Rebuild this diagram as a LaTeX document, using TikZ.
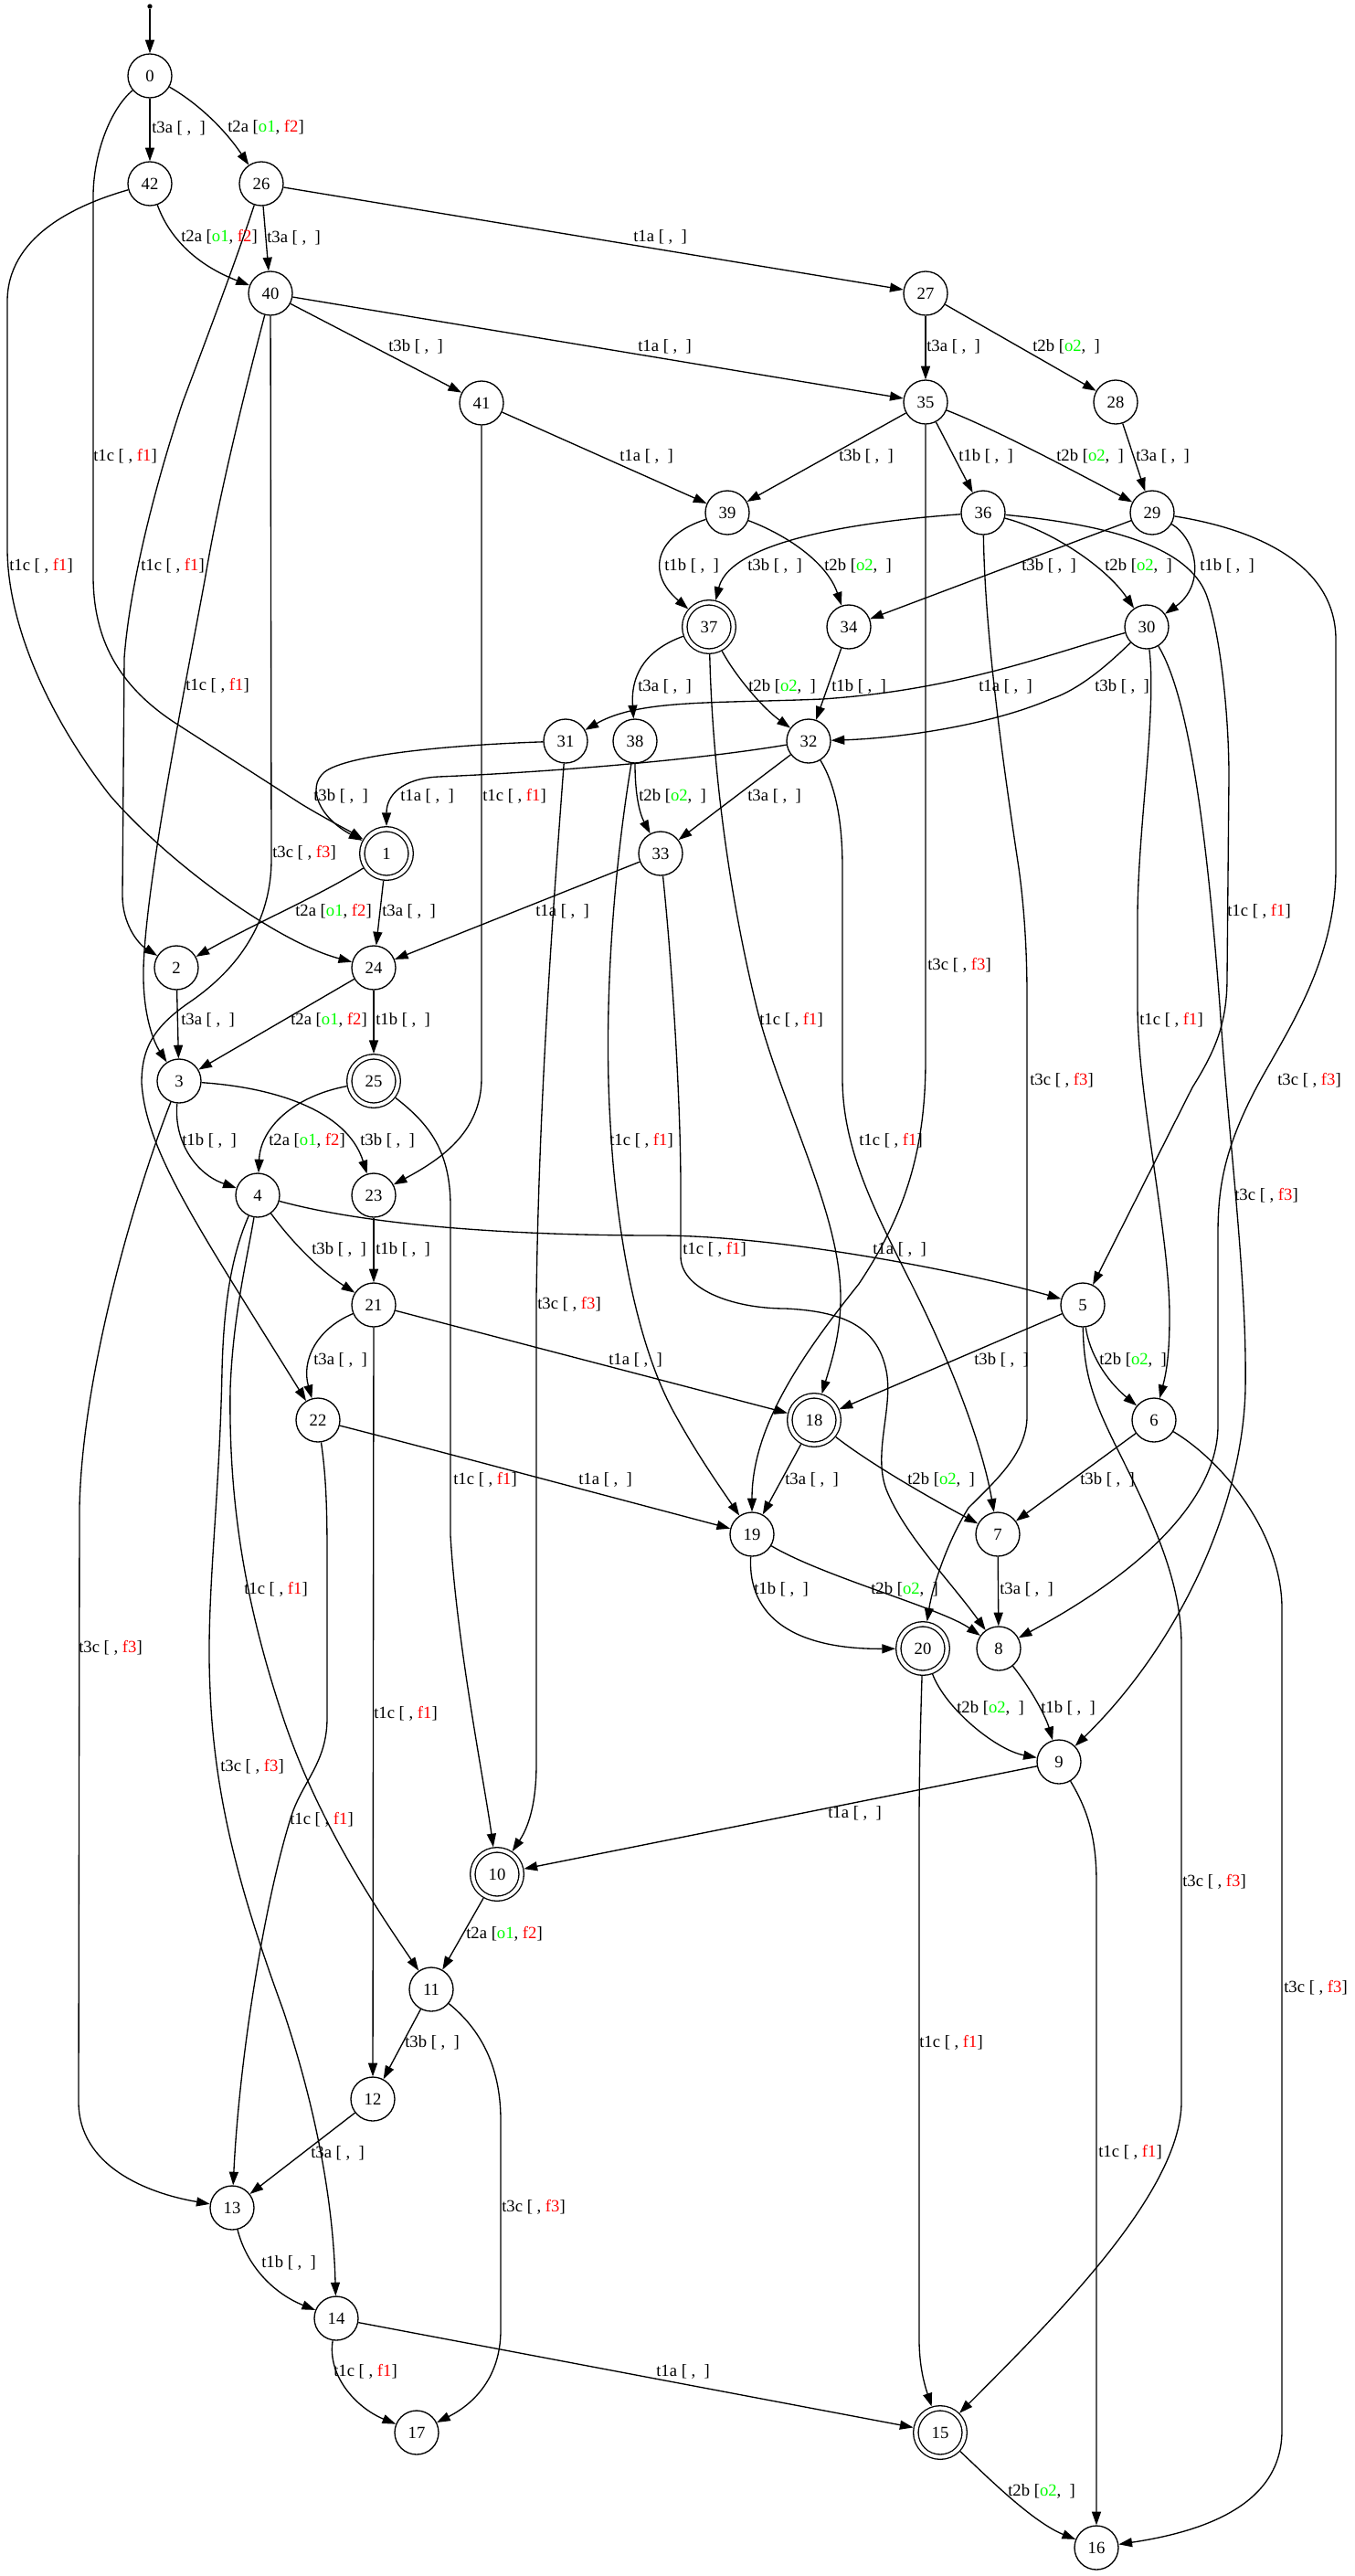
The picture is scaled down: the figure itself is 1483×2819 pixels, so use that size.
\documentclass[tikz,border=0pt]{standalone}
\usepackage{fontspec}
\setmainfont{Liberation Serif}
\usetikzlibrary{arrows.meta}
\definecolor{fgreen}{RGB}{0,255,0}
\definecolor{fred}{RGB}{255,0,0}
% transition labels: plain, fault only, observation only, both
\newcommand\Lnone[1]{#1 [~,~~]}
\newcommand\Lf[2]{#1 [~, \textcolor{fred}{#2}]}
\newcommand\Lo[2]{#1 [\textcolor{fgreen}{#2},~~]}
\newcommand\Lof[3]{#1 [\textcolor{fgreen}{#2}, \textcolor{fred}{#3}]}
\begin{document}
\begin{tikzpicture}[x=0.75pt,y=-0.75pt,
  st/.style={circle,draw,line width=1pt,minimum size=36pt,inner sep=0pt,font=\fontsize{14pt}{16pt}\selectfont},
  acc/.style={circle,draw,line width=1pt,double,double distance=3pt,minimum size=40pt,inner sep=0pt,outer sep=2.5pt,font=\fontsize{14pt}{16pt}\selectfont},
  e/.style={line width=1pt,-{Triangle[length=11pt,width=7.5pt]}},
  lbl/.style={anchor=west,inner sep=0pt,font=\fontsize{14pt}{16pt}\selectfont},
  dot/.style={circle,fill,inner sep=0pt,minimum size=4pt}]
\useasboundingbox[fill=white] (0,0) rectangle (1483,2819);

% states
\node[dot] (s) at (164,7) {};
\node[st] (n0) at (164,83) {0};
\node[st] (n42) at (164,201) {42};
\node[st] (n26) at (286,201) {26};
\node[st] (n40) at (296,321) {40};
\node[st] (n27) at (1013,321) {27};
\node[st] (n41) at (527,441) {41};
\node[st] (n35) at (1013,440) {35};
\node[st] (n28) at (1221,440) {28};
\node[st] (n39) at (796,561) {39};
\node[st] (n36) at (1076,561) {36};
\node[st] (n29) at (1261,561) {29};
\node[acc] (n37) at (776,686) {37};
\node[st] (n34) at (929,686) {34};
\node[st] (n30) at (1255,686) {30};
\node[st] (n31) at (619,811) {31};
\node[st] (n38) at (695,811) {38};
\node[st] (n32) at (885,811) {32};
\node[acc] (n1) at (423,934) {1};
\node[st] (n33) at (723,934) {33};
\node[st] (n2) at (193,1059) {2};
\node[st] (n24) at (409,1059) {24};
\node[st] (n3) at (196,1183) {3};
\node[acc] (n25) at (409,1183) {25};
\node[st] (n4) at (282,1308) {4};
\node[st] (n23) at (409,1308) {23};
\node[st] (n21) at (409,1428) {21};
\node[st] (n5) at (1185,1428) {5};
\node[st] (n22) at (348,1554) {22};
\node[acc] (n18) at (891,1554) {18};
\node[st] (n6) at (1263,1554) {6};
\node[st] (n19) at (823,1679) {19};
\node[st] (n7) at (1092,1679) {7};
\node[acc] (n20) at (1010,1804) {20};
\node[st] (n8) at (1093,1804) {8};
\node[st] (n9) at (1159,1928) {9};
\node[acc] (n10) at (544,2051) {10};
\node[st] (n11) at (472,2177) {11};
\node[st] (n12) at (408,2297) {12};
\node[st] (n13) at (254,2416) {13};
\node[st] (n14) at (368,2537) {14};
\node[st] (n17) at (456,2662) {17};
\node[acc] (n15) at (1029,2662) {15};
\node[st] (n16) at (1200,2788) {16};

% transitions
\draw[e] (s) -- (n0);
\draw[e] (n0) -- (n42);
\draw[e] (n0) .. controls (215,112) and (245,140) .. (n26);
\draw[e] (n0) .. controls (120,120) and (102,170) .. (102,215) -- (102,630) .. controls (102,700) and (130,750) .. (190,790) -- (330,880) .. controls (360,898) and (380,908) .. (n1);
\draw[e] (n42) .. controls (185,260) and (215,290) .. (n40);
\draw[e] (n42) .. controls (80,225) and (8,260) .. (8,330) -- (8,600) .. controls (8,680) and (50,780) .. (120,870) .. controls (180,940) and (300,1030) .. (n24);
\draw[e] (n26) -- (n40);
\draw[e] (n26) -- (n27);
\draw[e] (n26) .. controls (260,280) and (230,360) .. (200,440) .. controls (170,530) and (142,640) .. (136,720) -- (134,980) .. controls (134,1010) and (150,1032) .. (n2);
\draw[e] (n40) -- (n41);
\draw[e] (n40) -- (n35);
\draw[e] (n40) .. controls (270,420) and (240,540) .. (225,630) .. controls (205,740) and (160,960) .. (157,1060) .. controls (156,1110) and (168,1140) .. (n3);
\draw[e] (n40) -- (297,940) .. controls (297,1010) and (260,1060) .. (210,1095) .. controls (170,1122) and (155,1145) .. (155,1185) .. controls (160,1260) and (215,1340) .. (n22);
\draw[e] (n41) -- (n39);
\draw[e] (n41) -- (527,1180) .. controls (527,1240) and (480,1270) .. (n23);
\draw[e] (n27) -- (n35);
\draw[e] (n27) -- (n28);
\draw[e] (n35) -- (n39);
\draw[e] (n35) -- (n36);
\draw[e] (n35) .. controls (1090,470) and (1180,518) .. (n29);
\draw[e] (n35) -- (1013,1160) .. controls (1013,1260) and (990,1330) .. (940,1405) .. controls (880,1480) and (823,1560) .. (n19);
\draw[e] (n28) -- (n29);
\draw[e] (n39) .. controls (720,585) and (705,625) .. (n37);
\draw[e] (n39) .. controls (860,585) and (905,615) .. (n34);
\draw[e] (n36) .. controls (950,570) and (800,590) .. (n37);
\draw[e] (n36) .. controls (1150,580) and (1210,620) .. (n30);
\draw[e] (n36) .. controls (1220,575) and (1300,600) .. (1320,650) .. controls (1335,690) and (1345,780) .. (1345,850) -- (1343,1070) .. controls (1343,1120) and (1330,1150) .. (1305,1190) -- (n5);
\draw[e] (n36) .. controls (1078,700) and (1100,850) .. (1115,950) .. controls (1122,1000) and (1124,1050) .. (1124,1090) -- (1124,1550) .. controls (1124,1590) and (1090,1620) .. (1060,1650) .. controls (1035,1690) and (1020,1740) .. (n20);
\draw[e] (n29) -- (n34);
\draw[e] (n29) .. controls (1310,590) and (1320,640) .. (n30);
\draw[e] (n29) .. controls (1380,580) and (1462,620) .. (1462,700) -- (1462,950) .. controls (1462,1060) and (1400,1140) .. (1370,1200) .. controls (1340,1260) and (1333,1300) .. (1333,1350) -- (1333,1560) .. controls (1333,1640) and (1250,1720) .. (n8);
\draw[e] (n30) .. controls (1300,760) and (1320,900) .. (1335,1100) .. controls (1345,1250) and (1365,1400) .. (1363,1520) .. controls (1360,1650) and (1290,1800) .. (n9);
\draw[e] (n30) .. controls (1150,715) and (1050,755) .. (900,765) .. controls (780,770) and (700,765) .. (n31);
\draw[e] (n30) .. controls (1210,730) and (1180,755) .. (1150,765) .. controls (1080,795) and (980,808) .. (n32);
\draw[e] (n30) .. controls (1266,780) and (1246,900) .. (1245,1000) -- (1245,1100) .. controls (1245,1200) and (1280,1350) .. (1280,1440) .. controls (1280,1480) and (1277,1500) .. (n6);
\draw[e] (n37) .. controls (710,710) and (690,735) .. (n38);
\draw[e] (n37) .. controls (805,740) and (835,775) .. (n32);
\draw[e] (n37) .. controls (780,850) and (800,990) .. (830,1110) .. controls (860,1220) and (920,1330) .. (920,1420) .. controls (920,1460) and (910,1490) .. (n18);
\draw[e] (n34) -- (n32);
\draw[e] (n31) .. controls (500,815) and (380,825) .. (355,845) .. controls (335,862) and (350,895) .. (n1);
\draw[e] (n31) .. controls (605,1000) and (590,1200) .. (587,1420) -- (587,1930) .. controls (587,1975) and (578,2000) .. (n10);
\draw[e] (n38) .. controls (695,870) and (700,890) .. (n33);
\draw[e] (n38) .. controls (672,950) and (660,1100) .. (668,1230) .. controls (675,1360) and (700,1480) .. (740,1550) .. controls (765,1595) and (790,1630) .. (n19);
\draw[e] (n32) .. controls (760,832) and (600,845) .. (480,850) .. controls (440,852) and (423,870) .. (n1);
\draw[e] (n32) -- (n33);
\draw[e] (n32) .. controls (915,860) and (922,900) .. (922,950) -- (922,1180) .. controls (922,1260) and (960,1330) .. (1000,1410) .. controls (1040,1490) and (1075,1580) .. (n7);
\draw[e] (n33) -- (n24);
\draw[e] (n33) .. controls (735,1050) and (745,1200) .. (745,1300) -- (745,1375) .. controls (745,1410) and (800,1432) .. (860,1432) .. controls (920,1435) and (960,1450) .. (970,1500) .. controls (978,1540) and (955,1590) .. (970,1630) .. controls (990,1680) and (1040,1730) .. (n8);
\draw[e] (n1) .. controls (350,980) and (280,1010) .. (n2);
\draw[e] (n1) -- (n24);
\draw[e] (n2) -- (n3);
\draw[e] (n24) -- (n3);
\draw[e] (n24) -- (n25);
\draw[e] (n3) .. controls (190,1250) and (215,1285) .. (n4);
\draw[e] (n3) .. controls (300,1190) and (380,1215) .. (n23);
\draw[e] (n3) .. controls (150,1300) and (90,1500) .. (87,1650) -- (86,2300) .. controls (86,2370) and (160,2400) .. (n13);
\draw[e] (n25) .. controls (320,1200) and (285,1235) .. (n4);
\draw[e] (n25) .. controls (470,1230) and (493,1260) .. (493,1320) -- (493,1680) .. controls (500,1800) and (530,1950) .. (n10);
\draw[e] (n23) -- (n21);
\draw[e] (n4) .. controls (400,1340) and (550,1352) .. (720,1352) .. controls (850,1352) and (1050,1390) .. (n5);
\draw[e] (n4) .. controls (320,1360) and (350,1390) .. (n21);
\draw[e] (n4) .. controls (270,1380) and (255,1440) .. (252,1520) .. controls (250,1650) and (270,1760) .. (310,1880) .. controls (350,2000) and (420,2100) .. (n11);
\draw[e] (n4) .. controls (255,1370) and (245,1420) .. (243,1500) .. controls (240,1650) and (225,1750) .. (230,1850) .. controls (235,1980) and (270,2090) .. (310,2200) .. controls (350,2320) and (365,2420) .. (n14);
\draw[e] (n21) .. controls (345,1455) and (330,1490) .. (n22);
\draw[e] (n21) -- (n18);
\draw[e] (n21) -- (n12);
\draw[e] (n22) .. controls (450,1580) and (600,1620) .. (n19);
\draw[e] (n22) .. controls (356,1610) and (358,1640) .. (358,1700) -- (358,1880) .. controls (358,1930) and (330,1950) .. (318,1990) .. controls (290,2080) and (262,2250) .. (n13);
\draw[e] (n5) -- (n18);
\draw[e] (n5) .. controls (1192,1480) and (1210,1510) .. (n6);
\draw[e] (n5) .. controls (1186,1510) and (1200,1540) .. (1230,1600) .. controls (1270,1680) and (1293,1740) .. (1293,1800) -- (1293,2300) .. controls (1293,2400) and (1150,2540) .. (n15);
\draw[e] (n18) -- (n19);
\draw[e] (n18) .. controls (950,1600) and (1010,1635) .. (n7);
\draw[e] (n6) -- (n7);
\draw[e] (n6) .. controls (1340,1600) and (1403,1680) .. (1403,1760) -- (1403,2660) .. controls (1403,2740) and (1320,2770) .. (n16);
\draw[e] (n19) .. controls (818,1770) and (870,1805) .. (n20);
\draw[e] (n19) .. controls (900,1725) and (1030,1760) .. (n8);
\draw[e] (n7) -- (n8);
\draw[e] (n20) .. controls (1035,1870) and (1090,1915) .. (n9);
\draw[e] (n20) .. controls (1007,1900) and (1006,1950) .. (1006,2000) -- (1006,2560) .. controls (1006,2590) and (1012,2610) .. (n15);
\draw[e] (n8) .. controls (1130,1850) and (1145,1880) .. (n9);
\draw[e] (n9) -- (n10);
\draw[e] (n9) .. controls (1190,1980) and (1200,2010) .. (1200,2060) -- (n16);
\draw[e] (n10) -- (n11);
\draw[e] (n11) -- (n12);
\draw[e] (n11) .. controls (525,2220) and (548,2260) .. (548,2320) -- (548,2550) .. controls (548,2600) and (520,2630) .. (n17);
\draw[e] (n12) -- (n13);
\draw[e] (n13) .. controls (270,2480) and (300,2510) .. (n14);
\draw[e] (n14) .. controls (358,2600) and (390,2635) .. (n17);
\draw[e] (n14) -- (n15);
\draw[e] (n15) .. controls (1080,2710) and (1130,2760) .. (n16);

% transition labels
\node[lbl] (l0a) at (166,140) {\Lnone{t3a}};
\node[lbl] (l0b) at (249,139) {\Lof{t2a}{o1}{f2}};
\node[lbl] (l0c) at (102,499) {\Lf{t1c}{f1}};
\node[lbl] (l42a) at (198,259) {\Lof{t2a}{o1}{f2}};
\node[lbl] (l42b) at (10,619) {\Lf{t1c}{f1}};
\node[lbl] (l26a) at (292,260) {\Lnone{t3a}};
\node[lbl] (l26b) at (693,259) {\Lnone{t1a}};
\node[lbl] (l26c) at (154,619) {\Lf{t1c}{f1}};
\node[lbl] (l40a) at (425,379) {\Lnone{t3b}};
\node[lbl] (l40b) at (698,379) {\Lnone{t1a}};
\node[lbl] (l40c) at (203,750) {\Lf{t1c}{f1}};
\node[lbl] (l40d) at (298,933) {\Lf{t3c}{f3}};
\node[lbl] (l41a) at (678,499) {\Lnone{t1a}};
\node[lbl] (l41b) at (528,871) {\Lf{t1c}{f1}};
\node[lbl] (l27a) at (1014,379) {\Lnone{t3a}};
\node[lbl] (l27b) at (1130,379) {\Lo{t2b}{o2}};
\node[lbl] (l35a) at (918,499) {\Lnone{t3b}};
\node[lbl] (l35b) at (1049,499) {\Lnone{t1b}};
\node[lbl] (l35c) at (1156,499) {\Lo{t2b}{o2}};
\node[lbl] (l35d) at (1015,1056) {\Lf{t3c}{f3}};
\node[lbl] (l28a) at (1243,499) {\Lnone{t3a}};
\node[lbl] (l39a) at (727,619) {\Lnone{t1b}};
\node[lbl] (l39b) at (902,619) {\Lo{t2b}{o2}};
\node[lbl] (l36a) at (818,619) {\Lnone{t3b}};
\node[lbl] (l36b) at (1209,619) {\Lo{t2b}{o2}};
\node[lbl] (l36c) at (1343,997) {\Lf{t1c}{f1}};
\node[lbl] (l36d) at (1127,1182) {\Lf{t3c}{f3}};
\node[lbl] (l29a) at (1118,619) {\Lnone{t3b}};
\node[lbl] (l29b) at (1313,619) {\Lnone{t1b}};
\node[lbl] (l29c) at (1398,1182) {\Lf{t3c}{f3}};
\node[lbl] (l30a) at (1351,1308) {\Lf{t3c}{f3}};
\node[lbl] (l30b) at (1071,751) {\Lnone{t1a}};
\node[lbl] (l30c) at (1198,751) {\Lnone{t3b}};
\node[lbl] (l30d) at (1247,1116) {\Lf{t1c}{f1}};
\node[lbl] (l37a) at (698,751) {\Lnone{t3a}};
\node[lbl] (l37b) at (819,751) {\Lo{t2b}{o2}};
\node[lbl] (l37c) at (831,1116) {\Lf{t1c}{f1}};
\node[lbl] (l34a) at (910,751) {\Lnone{t1b}};
\node[lbl] (l31a) at (343,871) {\Lnone{t3b}};
\node[lbl] (l31b) at (588,1427) {\Lf{t3c}{f3}};
\node[lbl] (l38a) at (699,871) {\Lo{t2b}{o2}};
\node[lbl] (l38b) at (667,1248) {\Lf{t1c}{f1}};
\node[lbl] (l32a) at (438,871) {\Lnone{t1a}};
\node[lbl] (l32b) at (818,871) {\Lnone{t3a}};
\node[lbl] (l32c) at (940,1248) {\Lf{t1c}{f1}};
\node[lbl] (l33a) at (586,997) {\Lnone{t1a}};
\node[lbl] (l33b) at (747,1367) {\Lf{t1c}{f1}};
\node[lbl] (l1a) at (323,997) {\Lof{t2a}{o1}{f2}};
\node[lbl] (l1b) at (418,997) {\Lnone{t3a}};
\node[lbl] (l2a) at (198,1116) {\Lnone{t3a}};
\node[lbl] (l24a) at (318,1116) {\Lof{t2a}{o1}{f2}};
\node[lbl] (l24b) at (411,1116) {\Lnone{t1b}};
\node[lbl] (l3a) at (199,1248) {\Lnone{t1b}};
\node[lbl] (l3b) at (394,1248) {\Lnone{t3b}};
\node[lbl] (l3c) at (86,1803) {\Lf{t3c}{f3}};
\node[lbl] (l25a) at (294,1248) {\Lof{t2a}{o1}{f2}};
\node[lbl] (l25b) at (496,1619) {\Lf{t1c}{f1}};
\node[lbl] (l23a) at (411,1367) {\Lnone{t1b}};
\node[lbl] (l4a) at (955,1367) {\Lnone{t1a}};
\node[lbl] (l4b) at (341,1367) {\Lnone{t3b}};
\node[lbl] (l4c) at (267,1739) {\Lf{t1c}{f1}};
\node[lbl] (l4d) at (241,1933) {\Lf{t3c}{f3}};
\node[lbl] (l21a) at (343,1488) {\Lnone{t3a}};
\node[lbl] (l21b) at (666,1488) {\Lnone{t1a}};
\node[lbl] (l21c) at (409,1875) {\Lf{t1c}{f1}};
\node[lbl] (l22a) at (633,1619) {\Lnone{t1a}};
\node[lbl] (l22b) at (317,1991) {\Lf{t1c}{f1}};
\node[lbl] (l5a) at (1066,1488) {\Lnone{t3b}};
\node[lbl] (l5b) at (1203,1488) {\Lo{t2b}{o2}};
\node[lbl] (l5c) at (1294,2059) {\Lf{t3c}{f3}};
\node[lbl] (l18a) at (859,1619) {\Lnone{t3a}};
\node[lbl] (l18b) at (993,1619) {\Lo{t2b}{o2}};
\node[lbl] (l6a) at (1182,1619) {\Lnone{t3b}};
\node[lbl] (l6b) at (1405,2175) {\Lf{t3c}{f3}};
\node[lbl] (l19a) at (825,1739) {\Lnone{t1b}};
\node[lbl] (l19b) at (953,1739) {\Lo{t2b}{o2}};
\node[lbl] (l7a) at (1094,1739) {\Lnone{t3a}};
\node[lbl] (l20a) at (1047,1869) {\Lo{t2b}{o2}};
\node[lbl] (l20b) at (1006,2235) {\Lf{t1c}{f1}};
\node[lbl] (l8a) at (1139,1869) {\Lnone{t1b}};
\node[lbl] (l9a) at (906,1984) {\Lnone{t1a}};
\node[lbl] (l9b) at (1202,2355) {\Lf{t1c}{f1}};
\node[lbl] (l10a) at (510,2116) {\Lof{t2a}{o1}{f2}};
\node[lbl] (l11a) at (443,2235) {\Lnone{t3b}};
\node[lbl] (l11b) at (549,2415) {\Lf{t3c}{f3}};
\node[lbl] (l12a) at (340,2356) {\Lnone{t3a}};
\node[lbl] (l13a) at (286,2476) {\Lnone{t1b}};
\node[lbl] (l14a) at (365,2595) {\Lf{t1c}{f1}};
\node[lbl] (l14b) at (718,2595) {\Lnone{t1a}};
\node[lbl] (l15a) at (1103,2726) {\Lo{t2b}{o2}};
\end{tikzpicture}
\end{document}
